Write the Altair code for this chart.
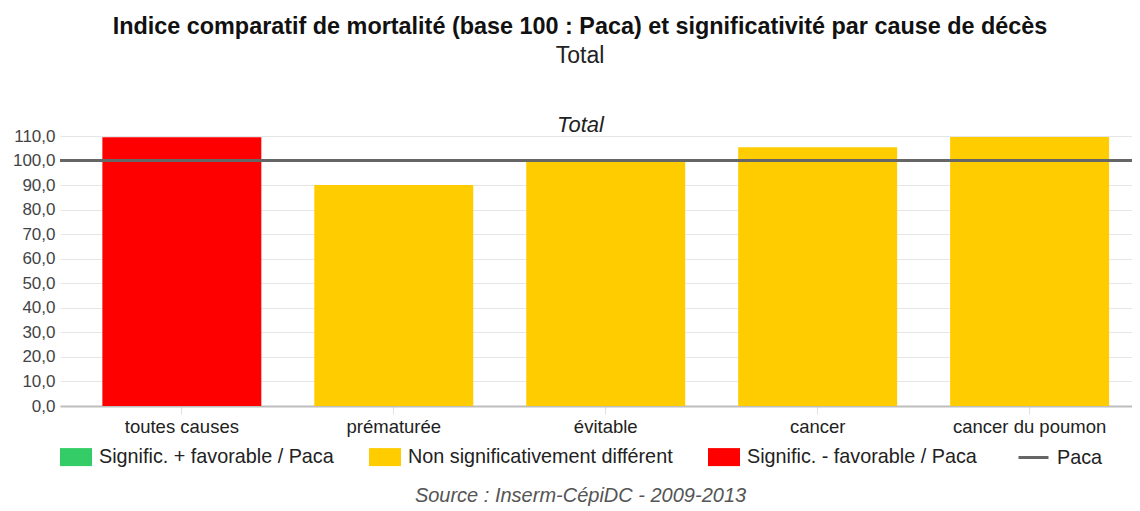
import altair as alt
import pandas as pd

# ---- data ----
causes = ["toutes causes", "prématurée", "évitable", "cancer", "cancer du poumon"]
icm_values = [109.5, 90.0, 99.8, 105.4, 109.6]
significance = [
    "Signific. - favorable / Paca",
    "Non significativement différent",
    "Non significativement différent",
    "Non significativement différent",
    "Non significativement différent",
]
sig_categories = [
    "Signific. + favorable / Paca",
    "Non significativement différent",
    "Signific. - favorable / Paca",
]
sig_colors = ["#33cc66", "#ffcc00", "#ff0000"]
ref_label = ["Paca"]
ref_value = [100]
y_ticks = [0, 10, 20, 30, 40, 50, 60, 70, 80, 90, 100, 110]

FONT = "Liberation Sans"

df = pd.DataFrame({"cause": causes, "icm": icm_values, "signif": significance})
ref_df = pd.DataFrame({"ref": ref_label, "value": ref_value})

x_scale = alt.Scale(domain=causes, paddingInner=0.25, paddingOuter=0.154, align=0.649)
y_scale = alt.Scale(domain=[0, 110], nice=False)

y_axis = alt.Axis(
    title=None,
    values=y_ticks,
    labelExpr="replace(format(datum.value, '.1f'), '.', ',')",
    labelFont=FONT,
    labelFontSize=17,
    labelColor="#444444",
    labelPadding=5,
    labelOverlap=False,
    labelFlush=False,
    ticks=False,
    domain=False,
    gridColor="#e6e6e6",
    gridWidth=1,
)

bars = alt.Chart(df).mark_bar().encode(
    x=alt.X(
        "cause:N",
        scale=x_scale,
        sort=causes,
        axis=alt.Axis(
            orient="bottom",
            title="Source : Inserm-CépiDC - 2009-2013",
            titleFont=FONT,
            titleFontSize=20,
            titleFontStyle="italic",
            titleFontWeight="normal",
            titleColor="#555555",
            titleX=520,
            titleY=89,
            titleBaseline="middle",
            labelFont=FONT,
            labelFontSize=18.5,
            labelColor="#222222",
            labelAngle=0,
            labelPadding=3,
            tickColor="#e0e0e0",
            tickSize=8,
            domainColor="#bdbdbd",
            domainWidth=2,
            grid=False,
        ),
    ),
    y=alt.Y("icm:Q", scale=y_scale, axis=y_axis),
    color=alt.Color(
        "signif:N",
        scale=alt.Scale(domain=sig_categories, range=sig_colors),
        legend=alt.Legend(
            title=None,
            orient="none",
            direction="horizontal",
            legendX=0,
            legendY=305,
            symbolType="M-1,-0.5625H1V0.5625H-1Z",
            symbolSize=1024,
            symbolStrokeWidth=0,
            symbolOpacity=1,
            labelFont=FONT,
            labelFontSize=19.8,
            labelColor="#222222",
            labelOffset=7,
            columnPadding=35,
            padding=0,
            labelLimit=400,
        ),
    ),
)

top_axis = alt.Chart(df).mark_text(text="").encode(
    x=alt.X(
        "cause:N",
        scale=x_scale,
        sort=causes,
        axis=alt.Axis(
            orient="top",
            title="Total",
            titleFont=FONT,
            titleFontSize=22,
            titleFontStyle="italic",
            titleFontWeight="normal",
            titleColor="#222222",
            titleX=520,
            titlePadding=0,
            labels=False,
            ticks=False,
            domain=False,
            grid=False,
        ),
    ),
    y=alt.value(0),
)

rule = alt.Chart(ref_df).mark_rule(strokeWidth=3).encode(
    y=alt.Y("value:Q", scale=y_scale, axis=y_axis),
    stroke=alt.Stroke(
        "ref:N",
        scale=alt.Scale(domain=ref_label, range=["#666666"]),
        legend=alt.Legend(
            title=None,
            orient="none",
            legendX=957,
            legendY=305,
            symbolType="stroke",
            symbolSize=900,
            symbolStrokeWidth=3,
            labelFont=FONT,
            labelFontSize=19.8,
            labelColor="#222222",
            labelOffset=7,
            padding=0,
        ),
    ),
)

chart = alt.layer(bars, top_axis, rule).properties(
    width=1072,
    height=270,
    autosize=alt.AutoSizeParams(type="none"),
    padding={"left": 52, "top": 128, "right": 0, "bottom": 102},
    title=alt.TitleParams(
        text="Indice comparatif de mortalité (base 100 : Paca) et significativité par cause de décès",
        subtitle="Total",
        font=FONT,
        fontSize=23.4,
        fontWeight="bold",
        color="#111111",
        subtitleFont=FONT,
        subtitleFontSize=23,
        subtitleColor="#222222",
        subtitlePadding=6,
        anchor="middle",
        dx=-16,
        offset=44,
    ),
).configure_view(stroke=None)

chart.save("out.html", embed_options={"renderer": "svg", "actions": False})
